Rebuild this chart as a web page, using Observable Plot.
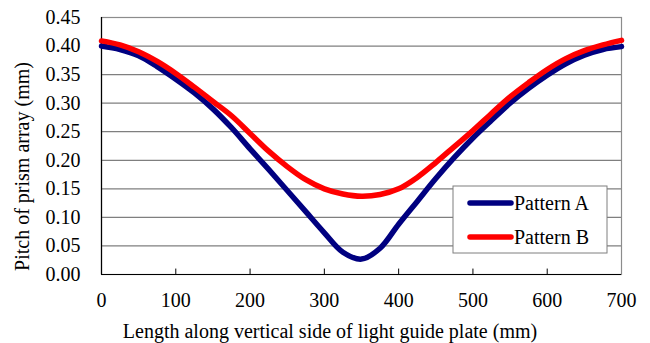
<!DOCTYPE html>
<html>
<head>
<meta charset="utf-8">
<script src="https://cdn.jsdelivr.net/npm/d3@7"></script>
<script src="https://cdn.jsdelivr.net/npm/@observablehq/plot@0.6"></script>
<style>
  html, body { margin: 0; padding: 0; background: #fff; }
  svg { display: block; }
  svg text { font-family: "Liberation Serif", "Times New Roman", Times, serif; }
</style>
</head>
<body>
<div id="chart"></div>
<script>
const positions = [0, 25, 50, 75, 100, 125, 150, 175, 200, 225, 250, 275, 300, 325, 350, 375, 400, 425, 450, 475, 500, 525, 550, 575, 600, 625, 650, 675, 700];
const patternA = [0.400, 0.394, 0.383, 0.364, 0.342, 0.318, 0.290, 0.257, 0.220, 0.184, 0.147, 0.110, 0.073, 0.039, 0.027, 0.046, 0.088, 0.128, 0.168, 0.205, 0.239, 0.270, 0.300, 0.326, 0.349, 0.369, 0.384, 0.394, 0.399];
const patternB = [0.409, 0.402, 0.390, 0.373, 0.352, 0.328, 0.303, 0.278, 0.247, 0.216, 0.189, 0.166, 0.150, 0.141, 0.137, 0.140, 0.150, 0.170, 0.196, 0.224, 0.252, 0.282, 0.311, 0.336, 0.359, 0.378, 0.392, 0.402, 0.410];
const seriesNames = ["Pattern A", "Pattern B"];
const seriesColors = ["#000080", "#ff0000"];
const xTicks = [0, 100, 200, 300, 400, 500, 600, 700];
const yTicks = [0, 0.05, 0.10, 0.15, 0.20, 0.25, 0.30, 0.35, 0.40, 0.45];
const xTitle = "Length along vertical side of light guide plate (mm)";
const yTitle = "Pitch of prism array (mm)";

const rows = [];
positions.forEach((p, i) => {
  rows.push({x: p, y: patternA[i], s: seriesNames[0]});
  rows.push({x: p, y: patternB[i], s: seriesNames[1]});
});

const W = 650, H = 343, ML = 101, MR = 29, MT = 17, MB = 69;
const FONT = "'Liberation Serif', 'Times New Roman', Times, serif";

const plot = Plot.plot({
  width: W, height: H,
  marginLeft: ML, marginRight: MR, marginTop: MT, marginBottom: MB,
  style: {fontFamily: FONT, fontSize: "20px", color: "#000", background: "#fff"},
  x: {domain: [0, 700]},
  y: {domain: [0, 0.45]},
  color: {domain: seriesNames, range: seriesColors},
  marks: [
    Plot.ruleY(yTicks.filter(d => d > 0), {stroke: "#7f7f7f", strokeWidth: 1.2}),
    Plot.frame({stroke: "#8c8c8c", strokeWidth: 1.2}),
    Plot.ruleX([0], {stroke: "#000", strokeWidth: 1.2}),
    Plot.ruleY([0], {stroke: "#000", strokeWidth: 1.2}),
    Plot.ruleX(xTicks.filter(d => d > 0 && d < 700), {y1: 0, y2: 0.0095, stroke: "#000", strokeWidth: 1}),
    Plot.axisY(yTicks, {tickSize: 0, tickPadding: 21, tickFormat: d3.format(".2f"), label: null, fontSize: 20}),
    Plot.axisX(xTicks, {tickSize: 0, tickPadding: 18, label: null, fontSize: 20}),
    Plot.line(rows, {x: "x", y: "y", z: "s", stroke: "s", strokeWidth: 5.5, curve: "catmull-rom"})
  ]
});

document.getElementById("chart").appendChild(plot);

const svg = d3.select(plot);
svg.append("text")
  .attr("x", 330).attr("y", 337.5)
  .attr("text-anchor", "middle")
  .attr("font-size", 20).attr("fill", "#000")
  .text(xTitle);
svg.append("text")
  .attr("transform", "translate(28.5,166.5) rotate(-90)")
  .attr("text-anchor", "middle")
  .attr("font-size", 20).attr("fill", "#000")
  .text(yTitle);

// legend
const lg = svg.append("g");
lg.append("rect").attr("x", 453).attr("y", 186).attr("width", 154).attr("height", 67)
  .attr("fill", "#fff").attr("stroke", "#7f7f7f").attr("stroke-width", 1);
seriesNames.forEach((n, i) => {
  const yy = 203 + i * 34;
  lg.append("line").attr("x1", 470).attr("x2", 511).attr("y1", yy).attr("y2", yy)
    .attr("stroke", seriesColors[i]).attr("stroke-width", 5.5).attr("stroke-linecap", "round");
  lg.append("text").attr("x", 514).attr("y", yy).attr("dy", "0.34em")
    .attr("text-anchor", "start")
    .attr("font-size", 20).attr("fill", "#000")
    .text(n);
});
</script>
</body>
</html>
